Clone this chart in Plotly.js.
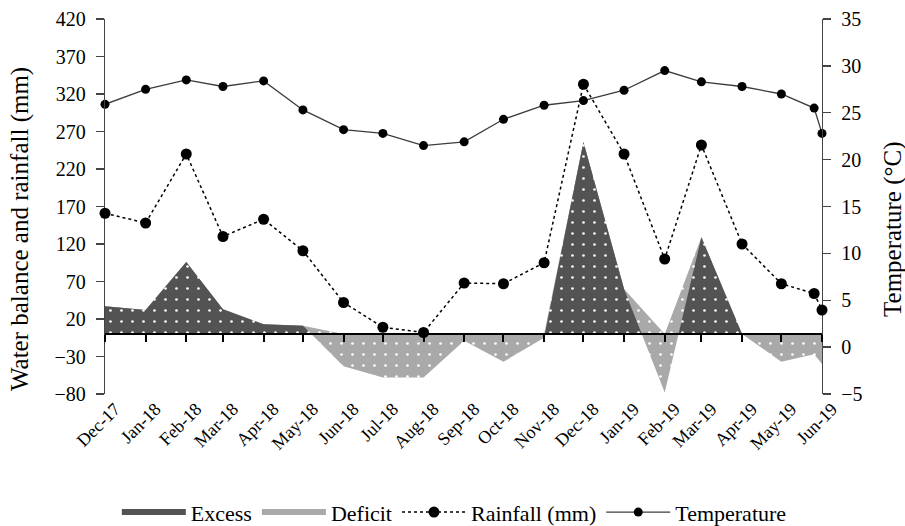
<!DOCTYPE html>
<html><head><meta charset="utf-8">
<script src="https://cdn.plot.ly/plotly-3.0.1.min.js"></script>
<style>html,body{margin:0;padding:0;background:#fff}#chart{width:905px;height:526px}</style>
</head><body><div id="chart"></div>
<script>
const dates = ["2017-12-01","2018-01-01","2018-02-01","2018-03-01","2018-04-01","2018-05-01","2018-06-01","2018-07-01","2018-08-01","2018-09-01","2018-10-01","2018-11-01","2018-12-01","2019-01-01","2019-02-01","2019-03-01","2019-04-01","2019-05-01","2019-05-26","2019-06-01"];
const waterBalance = [37,32,96,33,13,11,-43,-58,-58,-9,-37,-5,256,60,-78,129,0,-37,-27,-40];
const rainfall = [161,148,240,130,153,111,42,9,2,68,67,95,333,240,100,252,120,67,54,32];
const temperature = [25.9,27.5,28.5,27.8,28.4,25.3,23.2,22.8,21.5,21.9,24.3,25.8,26.3,27.4,29.5,28.3,27.8,27.0,25.5,22.8];
const xRange = ["2017-12-01","2019-06-01"];
const leftTitle = 'Water balance and rainfall (mm)';
const rightTitle = 'Temperature (°C)';

const FONT = "Liberation Serif, 'Times New Roman', serif";
const DARK = "#535353", LIGHT = "#a9a9a9";
const excessOnly = waterBalance.map(v => Math.max(v, 0));
const pat = (bg) => ({shape:'.', bgcolor: bg, fgcolor:'#ffffff', size:11, solidity:0.045});

const traces = [
  {x: dates, y: excessOnly, xaxis:'x', yaxis:'y', mode:'none', fill:'tozeroy', fillcolor: LIGHT,
   fillpattern: pat(LIGHT), showlegend:false, hoverinfo:'skip'},
  {x: dates, y: waterBalance, xaxis:'x', yaxis:'y', mode:'none', fill:'tozeroy', fillcolor: LIGHT,
   fillpattern: pat(LIGHT), name:'Deficit', legendrank:2},
  {x: dates, y: temperature, xaxis:'x', yaxis:'y2', mode:'lines+markers', name:'Temperature', legendrank:4,
   line:{color:'#3c3c3c', width:1.3}, marker:{color:'#000', size:9}, cliponaxis:false},
  {x: dates, y: waterBalance, xaxis:'x2', yaxis:'y3', mode:'none', fill:'tozeroy', fillcolor: DARK,
   fillpattern: pat(DARK), name:'Excess', legendrank:1},
  {x: dates, y: rainfall, xaxis:'x2', yaxis:'y3', mode:'lines+markers', name:'Rainfall (mm)', legendrank:3,
   line:{color:'#000', width:1.5, dash:'dot'}, marker:{color:'#000', size:11}, cliponaxis:false}
];

const layout = {
  width:905, height:526,
  margin:{l:105, r:83, t:19, b:132},
  paper_bgcolor:'#fff', plot_bgcolor:'rgba(0,0,0,0)',
  font:{family:FONT, color:'#000', size:18},
  showlegend:true,
  legend:{orientation:'h', xref:'container', yref:'container', x:0.502, xanchor:'center', y:0.026, yanchor:'middle',
          font:{family:FONT, size:22, color:'#000'}, itemwidth:64, tracegroupgap:0},
  xaxis:{type:'date', range:xRange, domain:[0,1], anchor:'y', tickformat:'%b-%y', dtick:'M1', tick0:'2017-12-01',
         tickangle:-45, showline:false, ticks:'', showgrid:false, zeroline:false, automargin:false,
         ticklabelshift:10, tickfont:{family:FONT, size:18, color:'#000'}},
  xaxis2:{type:'date', range:xRange, domain:[0,1], anchor:'free', position:0.16, dtick:'M1', tick0:'2017-12-01',
          showline:true, linewidth:2, linecolor:'#000', ticks:'outside', ticklen:7, tickwidth:2, tickcolor:'#000',
          showticklabels:false, showgrid:false, zeroline:false},
  yaxis:{range:[-80,420], dtick:50, tick0:-80, domain:[0,1], anchor:'x', automargin:false,
         showline:true, linecolor:'#444', linewidth:1.3, ticks:'outside', ticklen:8, tickcolor:'#444', tickwidth:1.3,
         showgrid:false, zeroline:false, ticklabelstandoff:6,
         tickfont:{family:FONT, size:20, color:'#000'}},
  yaxis2:{range:[-5,35], dtick:5, tick0:-5, overlaying:'y', side:'right', anchor:'x', automargin:false,
          showline:true, linecolor:'#444', linewidth:1.3, ticks:'outside', ticklen:8, tickcolor:'#444', tickwidth:1.3,
          showgrid:false, zeroline:false, ticklabelstandoff:6,
          tickfont:{family:FONT, size:20, color:'#000'}},
  yaxis3:{range:[0,420], domain:[0.16,1], anchor:'x2', visible:false, showgrid:false, zeroline:false},
  annotations:[
    {text:leftTitle, xref:'paper', yref:'paper', x:-0.1185, y:0.44, xanchor:'center', yanchor:'middle',
     textangle:-90, showarrow:false, font:{family:FONT, size:25, color:'#000'}},
    {text:rightTitle, xref:'paper', yref:'paper', x:1.099, y:0.44, xanchor:'center', yanchor:'middle',
     textangle:-90, showarrow:false, font:{family:FONT, size:25, color:'#000'}}
  ]
};

Plotly.newPlot('chart', traces, layout, {displayModeBar:false, staticPlot:true});
</script></body></html>
